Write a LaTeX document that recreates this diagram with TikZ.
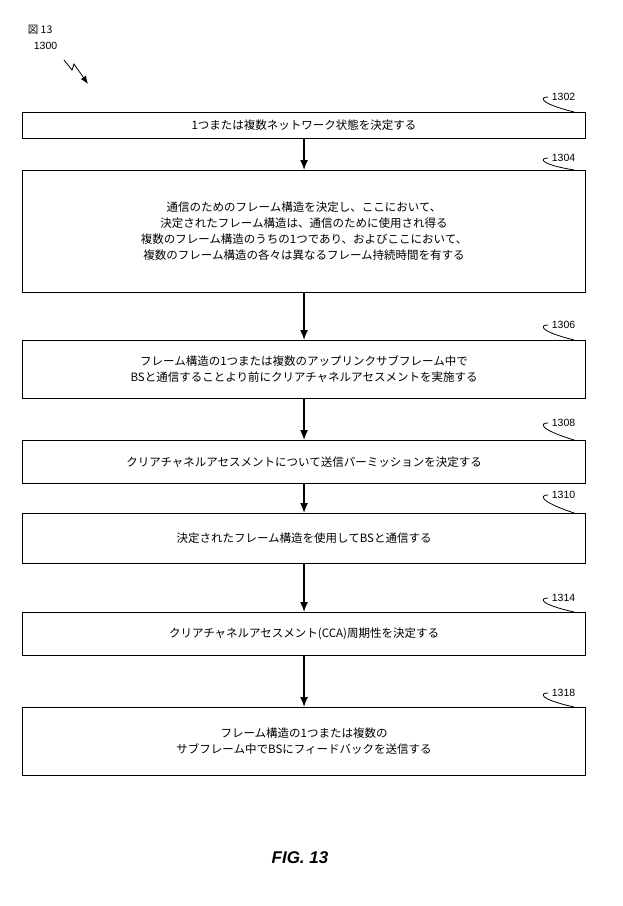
\documentclass[tikz,border=0pt]{standalone}
\usepackage{fontspec}
\setmainfont{Liberation Sans}
\newfontfamily\jp{Noto Sans CJK JP}
\usetikzlibrary{arrows.meta}
\begin{document}
\begin{tikzpicture}[x=1pt,y=-1pt,line width=1.1pt,
    stepbox/.style={draw,minimum width=563pt,anchor=north west,align=center,font=\jp\fontsize{11.5}{16}\selectfont,inner sep=0pt},
    flow/.style={-{Latex[length=10pt,width=8pt]},line width=1.4pt},
    reflabel/.style={font=\fontsize{10.5}{12}\selectfont,anchor=west}]

    \useasboundingbox (0,0) rectangle (622,906);

	% figure number
	\node[font=\jp\fontsize{10.5}{12}\selectfont,anchor=west] (fig) at (24,30) {図 13};
	\node[reflabel] (n1300) at (30,46) {1300};
	\draw[-{Latex[length=8pt]},line width=0.8pt] (64,60) -- (72,70) -- (74,64) -- (88,84);

	% boxes
	\node[stepbox,minimum height=26pt] (b1302) at (22,112) {1つまたは複数ネットワーク状態を決定する};
	\node[stepbox,minimum height=122pt] (b1304) at (22,170) {通信のためのフレーム構造を決定し、ここにおいて、\\決定されたフレーム構造は、通信のために使用され得る\\複数のフレーム構造のうちの1つであり、およびここにおいて、\\複数のフレーム構造の各々は異なるフレーム持続時間を有する};
	\node[stepbox,minimum height=58pt] (b1306) at (22,340) {フレーム構造の1つまたは複数のアップリンクサブフレーム中で\\BSと通信することより前にクリアチャネルアセスメントを実施する};
	\node[stepbox,minimum height=43pt] (b1308) at (22,440) {クリアチャネルアセスメントについて送信パーミッションを決定する};
	\node[stepbox,minimum height=50pt] (b1310) at (22,513) {決定されたフレーム構造を使用してBSと通信する};
	\node[stepbox,minimum height=43pt] (b1314) at (22,612) {クリアチャネルアセスメント(CCA)周期性を決定する};
	\node[stepbox,minimum height=68pt] (b1318) at (22,707) {フレーム構造の1つまたは複数の\\サブフレーム中でBSにフィードバックを送信する};

	% arrows
	\draw[flow] (b1302.south) -- (b1304.north);
	\draw[flow] (b1304.south) -- (b1306.north);
	\draw[flow] (b1306.south) -- (b1308.north);
	\draw[flow] (b1308.south) -- (b1310.north);
	\draw[flow] (b1310.south) -- (b1314.north);
	\draw[flow] (b1314.south) -- (b1318.north);

	% reference numbers
	\foreach \name/\y/\bx in {1302/97/b1302,1304/158/b1304,1306/325/b1306,1308/423/b1308,1310/495/b1310,1314/598/b1314,1318/693/b1318} {
	    \node[reflabel] (l\name) at (548,\y) {\name};
	    \draw[line width=0.8pt] (l\name.west) .. controls (540,\y) and (538,\y+6) .. ([xshift=-12pt]\bx.north east);
	}

	\node[font=\bfseries\itshape\fontsize{17}{20}\selectfont] (caption) at (300,858) {FIG. 13};
\end{tikzpicture}
\end{document}
